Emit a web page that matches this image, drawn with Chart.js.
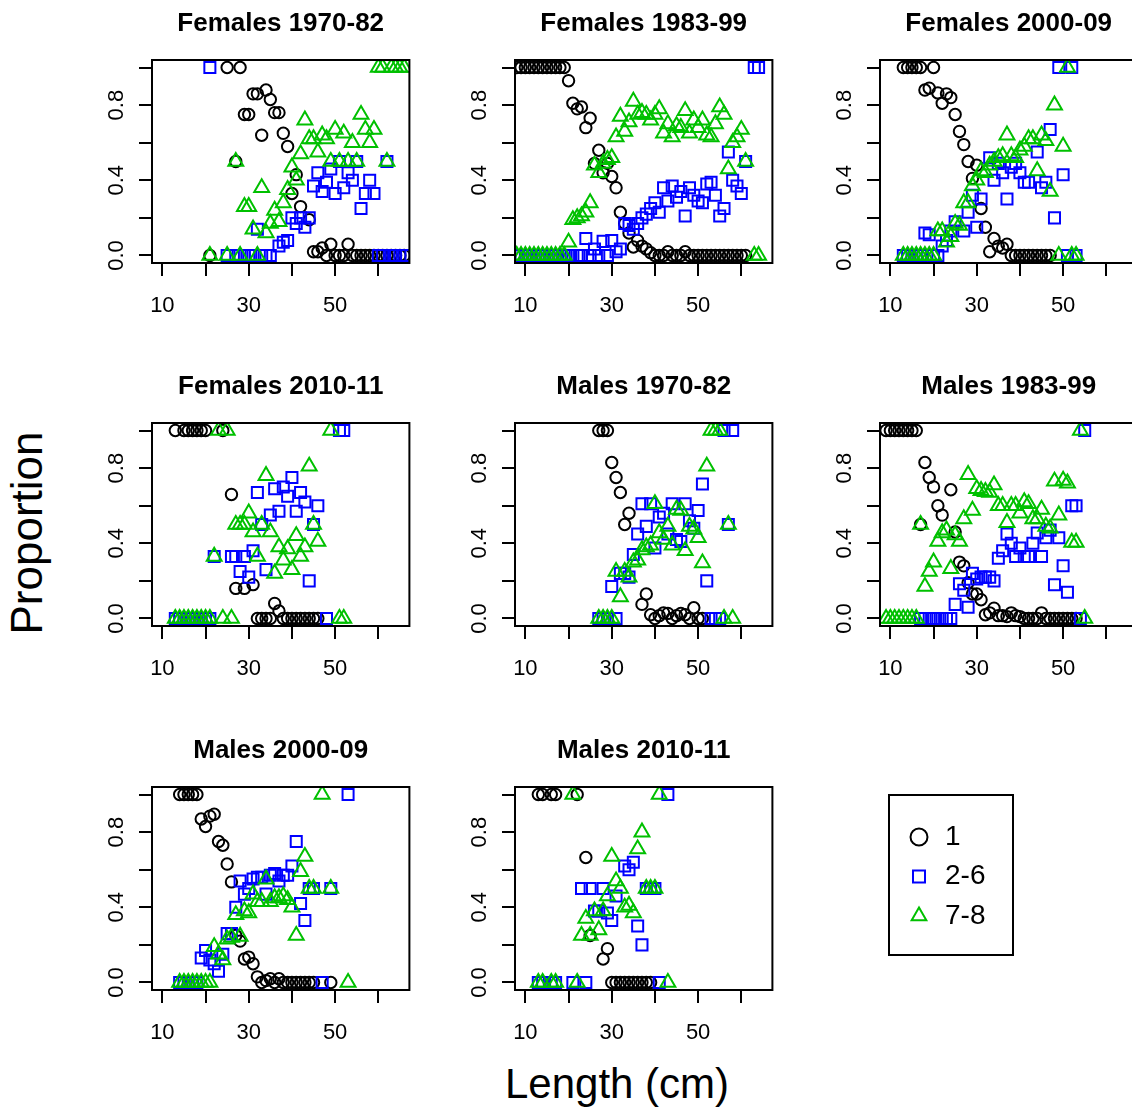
<!DOCTYPE html>
<html>
<head>
<meta charset="utf-8">
<script src="https://cdn.jsdelivr.net/npm/chart.js@4.4.1/dist/chart.umd.min.js"></script>
<style>
  html, body { margin: 0; padding: 0; background: #fff; }
  #page { position: relative; width: 1132px; height: 1110px; overflow: hidden; background: #fff; }
  #page canvas { position: absolute; }
  .axis-title {
    position: absolute;
    font-family: "Liberation Sans", Arial, Helvetica, sans-serif;
    line-height: 42px;
    color: #000;
    white-space: nowrap;
  }
  #yTitle { font-size: 44px; left: 27px; top: 533px; transform: translate(-50%, -50%) rotate(-90deg); }
  #xTitle { font-size: 42px; left: 617px; top: 1063px; transform: translateX(-50%); }
  #legendBox {
    position: absolute; left: 888px; top: 794px;
    width: 126px; height: 162px;
    box-sizing: border-box; border: 2px solid #000;
  }
  #legendBox canvas { position: absolute; left: 0; top: 0; }
</style>
</head>
<body>
<div id="page">
  <div class="axis-title" id="yTitle">Proportion</div>
  <div class="axis-title" id="xTitle">Length (cm)</div>
  <div id="legendBox"><canvas id="legendCanvas" width="122" height="158"></canvas></div>
</div>
<script>
// Proportion of each age group by length (cm), one set per sex and period
const fem7082Age1 = [[21,0],[25,1],[27,0.5],[28,1],[29,0.75],[30,0.75],[31,0.86],[32,0.86],[33,0.64],[34,0.88],[35,0.83],[36,0.76],[37,0.76],[38,0.65],[39,0.58],[40,0.33],[41,0.43],[42,0.26],[44,0.19],[45,0.02],[46,0.02],[47,0.04],[48,0],[49,0.06],[50,0],[51,0],[52,0],[53,0.06],[54,0],[55,0],[56,0],[57,0],[58,0],[59,0],[60,0],[61,0],[62,0],[63,0],[64,0],[65,0],[66,0]];
const fem7082Age26 = [[21,1],[25,0],[27,0],[28,0],[29,0],[30,0],[31,0],[32,0.14],[33,0],[34,0],[35,0],[37,0.05],[38,0.07],[39,0.08],[40,0.2],[41,0.17],[42,0.2],[43,0.15],[44,0.2],[45,0.37],[46,0.44],[47,0.34],[48,0.39],[49,0.46],[50,0.33],[51,0.5],[52,0.36],[53,0.44],[54,0.4],[55,0.5],[56,0.25],[57,0.33],[58,0.4],[59,0.33],[60,0],[61,0],[62,0.5],[63,0],[64,0],[65,0],[66,0]];
const fem7082Age78 = [[21,0],[25,0],[27,0.5],[28,0],[29,0.26],[30,0.26],[31,0.14],[32,0],[33,0.36],[34,0.12],[35,0.17],[36,0.24],[37,0.18],[38,0.28],[39,0.35],[40,0.47],[41,0.4],[42,0.54],[43,0.72],[44,0.62],[45,0.62],[46,0.55],[47,0.64],[48,0.62],[49,0.5],[50,0.67],[51,0.5],[52,0.65],[53,0.5],[54,0.6],[55,0.5],[56,0.75],[57,0.67],[58,0.6],[59,0.67],[60,1],[61,1],[62,0.5],[63,1],[64,1],[65,1],[66,1]];

const fem8399Age1 = [[8,1],[9,1],[10,1],[11,1],[12,1],[13,1],[14,1],[15,1],[16,1],[17,1],[18,1],[19,1],[20,0.93],[21,0.81],[22,0.78],[23,0.79],[24,0.68],[25,0.73],[26,0.49],[27,0.56],[28,0.44],[29,0.49],[30,0.42],[31,0.36],[32,0.23],[33,0.17],[34,0.12],[35,0.045],[36,0.08],[37,0.05],[38,0.035],[39,0.015],[40,0],[41,0],[42,0],[43,0.02],[44,0],[45,0],[46,0],[47,0.02],[48,0],[49,0],[50,0],[51,0],[52,0],[53,0],[54,0],[55,0],[56,0],[57,0],[58,0],[59,0],[60,0],[61,0]];
const fem8399Age26 = [[8,0],[9,0],[10,0],[11,0],[12,0],[13,0],[14,0],[15,0],[16,0],[17,0],[18,0],[19,0],[20,0],[21,0],[22,0],[23,0],[24,0.09],[25,0],[26,0.035],[27,0],[28,0.075],[29,0],[30,0.08],[31,0.02],[32,0.035],[33,0.17],[34,0.16],[35,0.14],[36,0.17],[37,0.2],[38,0.22],[39,0.25],[40,0.28],[41,0.23],[42,0.36],[43,0.29],[44,0.37],[45,0.31],[46,0.34],[47,0.21],[48,0.36],[49,0.32],[50,0.29],[51,0.28],[52,0.38],[53,0.39],[54,0.32],[55,0.21],[56,0.25],[57,0.55],[58,0.4],[59,0.37],[60,0.33],[61,0.5],[63,1],[64,1]];
const fem8399Age78 = [[8,0],[9,0],[10,0],[11,0],[12,0],[13,0],[14,0],[15,0],[16,0],[17,0],[18,0],[19,0],[20,0.07],[21,0.19],[22,0.2],[23,0.21],[24,0.23],[25,0.28],[26,0.48],[27,0.44],[28,0.49],[29,0.51],[30,0.52],[31,0.63],[32,0.74],[33,0.66],[34,0.71],[35,0.82],[36,0.75],[37,0.76],[38,0.75],[39,0.72],[40,0.75],[41,0.78],[42,0.65],[43,0.7],[44,0.63],[45,0.69],[46,0.68],[47,0.77],[48,0.65],[49,0.72],[50,0.68],[51,0.72],[52,0.64],[53,0.63],[54,0.7],[55,0.79],[56,0.75],[57,0.46],[58,0.6],[59,0.63],[60,0.67],[61,0.5],[63,0],[64,0]];

const fem0009Age1 = [[13,1],[14,1],[15,1],[16,1],[17,1],[18,0.88],[19,0.89],[20,1],[21,0.865],[22,0.81],[23,0.86],[24,0.84],[25,0.75],[26,0.66],[27,0.59],[28,0.5],[29,0.41],[30,0.48],[31,0.25],[32,0.15],[33,0.02],[34,0.09],[35,0.05],[36,0.04],[37,0.06],[38,0],[39,0],[40,0],[41,0],[42,0],[43,0],[44,0],[45,0],[46,0],[47,0]];
const fem0009Age26 = [[13,0],[14,0],[15,0],[16,0],[17,0],[18,0.12],[19,0.11],[20,0],[21,0],[22,0.05],[23,0.08],[24,0.13],[25,0.18],[27,0.13],[28,0.23],[29,0.32],[30,0.15],[31,0.3],[33,0.52],[34,0.4],[35,0.49],[36,0.44],[37,0.3],[38,0.47],[39,0.49],[40,0.44],[41,0.39],[42,0.39],[44,0.55],[45,0.36],[46,0.39],[47,0.67],[48,0.2],[49,1],[50,0.43],[51,0],[52,1],[53,0]];
const fem0009Age78 = [[13,0],[14,0],[15,0],[16,0],[17,0],[18,0],[19,0],[20,0],[21,0.13],[22,0.13],[23,0.07],[24,0.1],[25,0.17],[26,0.16],[27,0.28],[28,0.28],[29,0.37],[30,0.4],[31,0.45],[32,0.44],[33,0.48],[34,0.5],[35,0.52],[36,0.53],[37,0.64],[38,0.53],[39,0.52],[40,0.56],[41,0.58],[42,0.62],[43,0.62],[44,0.45],[45,0.64],[46,0.61],[47,0.34],[48,0.8],[49,0],[50,0.58],[51,1],[52,0],[53,0]];

const fem1011Age1 = [[13,1],[15,1],[16,1],[17,1],[18,1],[19,1],[20,1],[24,1],[26,0.66],[27,0.16],[29,0.16],[31,0.18],[32,0],[33,0],[34,0],[35,0],[36,0.08],[37,0.04],[38,0],[39,0],[40,0],[41,0],[42,0],[43,0],[44,0],[45,0],[46,0]];
const fem1011Age26 = [[13,0],[14,0],[15,0],[16,0],[17,0],[18,0],[19,0],[20,0],[21,0],[22,0.33],[26,0.33],[27,0.33],[28,0.25],[29,0.33],[30,0.22],[31,0.36],[32,0.67],[33,0.5],[34,0.26],[35,0.55],[36,0.69],[37,0.57],[38,0.7],[39,0.65],[40,0.75],[41,0.57],[42,0.67],[43,0.62],[44,0.2],[45,0.5],[46,0.6],[48,0],[51,1],[52,1]];
const fem1011Age78 = [[13,0],[14,0],[15,0],[16,0],[17,0],[18,0],[19,0],[20,0],[21,0],[22,0.33],[23,1],[24,0],[25,1],[26,0],[27,0.5],[28,0.5],[29,0.5],[30,0.56],[31,0.46],[32,0.33],[33,0.5],[34,0.76],[35,0.46],[36,0.24],[37,0.38],[38,0.31],[39,0.37],[40,0.26],[41,0.44],[42,0.33],[43,0.38],[44,0.81],[45,0.5],[46,0.41],[49,1],[51,0],[52,0]];

const male7082Age1 = [[27,1],[28,1],[29,1],[30,0.83],[31,0.75],[32,0.67],[33,0.5],[34,0.56],[37,0.075],[38,0.13],[39,0.02],[40,0],[41,0.015],[42,0.03],[43,0.027],[44,0],[45,0.015],[46,0.027],[47,0.02],[48,0],[49,0.057],[50,0],[51,0]];
const male7082Age26 = [[27,0],[28,0],[29,0],[30,0.17],[31,0],[32,0.24],[33,0.24],[34,0.22],[35,0.34],[36,0.45],[37,0.61],[38,0.49],[39,0.61],[40,0.375],[41,0.54],[42,0.56],[43,0.45],[44,0.61],[45,0.42],[46,0.41],[47,0.61],[48,0.52],[49,0.48],[50,0.575],[51,0.715],[52,0.2],[53,0],[54,0],[55,0],[56,1],[57,0.5],[58,1]];
const male7082Age78 = [[27,0],[28,0],[29,0],[30,0],[31,0.25],[32,0.115],[33,0.25],[34,0.22],[35,0.3],[36,0.31],[37,0.365],[38,0.38],[39,0.39],[40,0.61],[41,0.455],[42,0.42],[43,0.49],[44,0.39],[45,0.58],[46,0.575],[47,0.36],[48,0.49],[49,0.475],[50,0.43],[51,0.295],[52,0.81],[53,1],[54,1],[55,1],[56,0],[57,0.5],[58,0]];

const male8399Age1 = [[9,1],[10,1],[11,1],[12,1],[13,1],[14,1],[15,1],[16,1],[17,0.5],[18,0.83],[19,0.75],[20,0.7],[21,0.6],[22,0.55],[24,0.685],[25,0.46],[26,0.3],[27,0.28],[28,0.19],[29,0.13],[30,0.13],[31,0.1],[32,0.02],[33,0.03],[34,0.055],[35,0.015],[36,0.015],[37,0.01],[38,0.03],[39,0.015],[40,0.01],[41,0],[42,0],[43,0],[44,0],[45,0.03],[46,0],[47,0],[48,0],[49,0],[50,0],[51,0],[52,0],[53,0]];
const male8399Age26 = [[17,0],[18,0],[19,0],[20,0],[21,0],[22,0],[23,0],[24,0],[25,0.075],[26,0.185],[27,0.15],[28,0.06],[29,0.24],[30,0.21],[31,0.22],[32,0.22],[33,0.22],[34,0.2],[35,0.32],[36,0.36],[37,0.45],[38,0.4],[39,0.33],[40,0.375],[41,0.33],[42,0.33],[43,0.4],[44,0.455],[45,0.33],[46,0.43],[47,0.47],[48,0.18],[49,0.43],[50,0.28],[51,0.14],[52,0.6],[53,0.6],[54,0],[55,1]];
const male8399Age78 = [[9,0],[10,0],[11,0],[12,0],[13,0],[14,0],[15,0],[16,0],[17,0.5],[18,0.17],[19,0.25],[20,0.3],[21,0.41],[22,0.455],[23,0.47],[24,0.265],[25,0.445],[26,0.41],[27,0.53],[28,0.765],[29,0.575],[30,0.69],[31,0.68],[32,0.675],[33,0.67],[34,0.71],[35,0.6],[36,0.6],[37,0.51],[38,0.6],[39,0.6],[40,0.56],[41,0.62],[42,0.61],[43,0.53],[44,0.53],[45,0.58],[46,0.49],[47,0.48],[48,0.73],[49,0.55],[50,0.735],[51,0.72],[52,0.405],[53,0.405],[54,1],[55,0]];

const male0009Age1 = [[14,1],[15,1],[16,1],[17,1],[18,1],[19,0.87],[20,0.83],[21,0.885],[22,0.895],[23,0.75],[24,0.73],[25,0.63],[26,0.535],[27,0.25],[28,0.22],[29,0.125],[30,0.135],[31,0.1],[32,0.03],[33,0],[34,0.01],[35,0.02],[36,0],[37,0.02],[38,0],[39,0],[40,0],[41,0],[42,0],[43,0],[44,0],[45,0],[49,0]];
const male0009Age26 = [[14,0],[15,0],[16,0],[17,0],[18,0],[19,0.13],[20,0.17],[21,0.12],[22,0.1],[23,0.06],[24,0.15],[25,0.26],[26,0.26],[27,0.4],[28,0.54],[29,0.47],[30,0.5],[31,0.55],[32,0.56],[33,0.56],[34,0.47],[35,0.57],[36,0.58],[37,0.54],[38,0.57],[39,0.57],[40,0.62],[41,0.75],[42,0.42],[43,0.33],[44,0.5],[45,0.5],[47,0],[49,0.5],[53,1]];
const male0009Age78 = [[14,0],[15,0],[16,0],[17,0],[18,0],[19,0],[20,0],[21,0],[22,0.19],[23,0.15],[24,0.12],[25,0.23],[26,0.24],[27,0.36],[28,0.245],[29,0.38],[30,0.37],[31,0.47],[32,0.43],[33,0.43],[34,0.55],[35,0.43],[36,0.45],[37,0.45],[38,0.46],[39,0.44],[40,0.4],[41,0.25],[42,0.59],[43,0.67],[44,0.5],[45,0.5],[47,1],[49,0.5],[53,0]];

const male1011Age1 = [[13,1],[14,1],[16,1],[17,1],[22,1],[24,0.665],[25,0.25],[28,0.125],[29,0.18],[30,0],[31,0],[32,0],[33,0],[34,0],[35,0],[36,0],[37,0],[38,0],[39,0]];
const male1011Age26 = [[13,0],[14,0],[16,0],[17,0],[21,0],[23,0.5],[24,0],[25,0.5],[26,0.38],[27,0.38],[28,0.5],[29,0.37],[30,0.33],[31,0.46],[33,0.62],[34,0.6],[35,0.64],[36,0.3],[37,0.2],[38,0.5],[39,0.5],[40,0.5],[41,0],[43,1]];
const male1011Age78 = [[13,0],[14,0],[16,0],[17,0],[21,1],[22,0],[23,0.25],[24,0.34],[25,0.25],[26,0.38],[27,0.28],[28,0.38],[29,0.46],[30,0.67],[31,0.54],[32,0.5],[33,0.4],[34,0.41],[35,0.37],[36,0.71],[37,0.8],[38,0.5],[39,0.5],[40,0.5],[41,1],[43,0]];

const panelTitles = ['Females 1970-82', 'Females 1983-99', 'Females 2000-09', 'Females 2010-11',
                     'Males 1970-82', 'Males 1983-99', 'Males 2000-09', 'Males 2010-11'];
const panelSeries = [
  [fem7082Age1, fem7082Age26, fem7082Age78],
  [fem8399Age1, fem8399Age26, fem8399Age78],
  [fem0009Age1, fem0009Age26, fem0009Age78],
  [fem1011Age1, fem1011Age26, fem1011Age78],
  [male7082Age1, male7082Age26, male7082Age78],
  [male8399Age1, male8399Age26, male8399Age78],
  [male0009Age1, male0009Age26, male0009Age78],
  [male1011Age1, male1011Age26, male1011Age78]
];

const seriesNames = ['1', '2-6', '7-8'];
const xTickVals = [10, 20, 30, 40, 50, 60];
const xTickLabels = ['10', '', '30', '', '50', ''];
const yTickVals = [0, 0.2, 0.4, 0.6, 0.8, 1];
const yTickLabels = ['0.0', '', '0.4', '', '0.8', ''];

// marker look per age group
const seriesColors = ['#000000', '#0000ff', '#00c000'];
const seriesShapes = ['circle', 'rect', 'triangle'];
const seriesRadius = [5.7, 7.8, 8.6];

// top-left corner of each boxed plot area
const boxLefts = [152, 515, 880];
const boxTops = [60, 423, 787];
const boxW = 258, boxH = 203;
const yAxisW = 90, titleH = 60, xAxisH = 60, padRight = 10;

Chart.defaults.font.family = '"Liberation Sans", Arial, Helvetica, sans-serif';
Chart.defaults.color = '#000';

// box round the plot area, drawn over the points like R's box()
const frame = {
  id: 'frame',
  afterDatasetsDraw(chart) {
    const { ctx, chartArea: a } = chart;
    ctx.save();
    ctx.strokeStyle = '#000';
    ctx.lineWidth = 2;
    ctx.strokeRect(a.left, a.top, a.right - a.left, a.bottom - a.top);
    ctx.restore();
  }
};

const page = document.getElementById('page');

panelTitles.forEach((title, i) => {
  const canvas = document.createElement('canvas');
  canvas.width = yAxisW + boxW + padRight;
  canvas.height = titleH + boxH + xAxisH;
  canvas.style.left = (boxLefts[i % 3] - yAxisW) + 'px';
  canvas.style.top = (boxTops[Math.floor(i / 3)] - titleH) + 'px';
  page.appendChild(canvas);

  const datasets = panelSeries[i].map((pts, k) => ({
    label: seriesNames[k],
    data: pts.map(([x, y]) => ({ x: x, y: y })),
    pointStyle: seriesShapes[k],
    pointRadius: seriesRadius[k],
    borderColor: seriesColors[k],
    backgroundColor: 'rgba(0,0,0,0)',
    borderWidth: 2,
    order: 3 - k
  }));

  new Chart(canvas, {
    type: 'scatter',
    data: { datasets },
    plugins: [frame],
    options: {
      responsive: false,
      animation: false,
      events: [],
      layout: { padding: { left: 0, right: padRight, top: 0, bottom: 0 } },
      plugins: {
        legend: { display: false },
        tooltip: { enabled: false },
        title: {
          display: true,
          text: title,
          fullSize: false,
          color: '#000',
          font: { size: 26, weight: 'bold' },
          padding: { top: 8, bottom: 20.8 }
        }
      },
      scales: {
        x: {
          type: 'linear',
          min: 7.6,
          max: 67.2,
          afterBuildTicks: axis => { axis.ticks = xTickVals.map(v => ({ value: v })); },
          afterFit: axis => { axis.height = xAxisH; },
          border: { display: false },
          grid: { drawOnChartArea: false, drawTicks: true, tickLength: 13, color: '#000', lineWidth: 2 },
          ticks: {
            autoSkip: false,
            maxRotation: 0,
            padding: 17,
            color: '#000',
            font: { size: 22 },
            callback: (v, idx) => xTickLabels[idx]
          }
        },
        y: {
          type: 'linear',
          min: -0.04,
          max: 1.04,
          afterBuildTicks: axis => { axis.ticks = yTickVals.map(v => ({ value: v })); },
          afterFit: axis => { axis.width = yAxisW; },
          border: { display: false },
          grid: { drawOnChartArea: false, drawTicks: true, tickLength: 13, color: '#000', lineWidth: 2 },
          ticks: {
            autoSkip: false,
            minRotation: 90,
            maxRotation: 90,
            crossAlign: 'center',
            padding: 7,
            color: '#000',
            font: { size: 22 },
            callback: (v, idx) => yTickLabels[idx]
          }
        }
      }
    }
  });
});

// legend in its own boxed canvas
new Chart(document.getElementById('legendCanvas'), {
  type: 'scatter',
  data: {
    datasets: seriesNames.map((name, k) => ({
      label: name,
      data: [],
      pointStyle: seriesShapes[k],
      borderColor: seriesColors[k],
      backgroundColor: 'rgba(0,0,0,0)',
      borderWidth: 2
    }))
  },
  options: {
    responsive: false,
    animation: false,
    events: [],
    layout: { padding: { left: 5.5, top: 3, right: 0, bottom: 0 } },
    scales: { x: { display: false }, y: { display: false } },
    plugins: {
      tooltip: { enabled: false },
      legend: {
        position: 'left',
        align: 'center',
        maxWidth: 120,
        labels: {
          usePointStyle: true,
          boxHeight: 12,
          boxWidth: 24,
          padding: 11.5,
          color: '#000',
          font: { size: 28 }
        }
      }
    }
  }
});
</script>
</body>
</html>
